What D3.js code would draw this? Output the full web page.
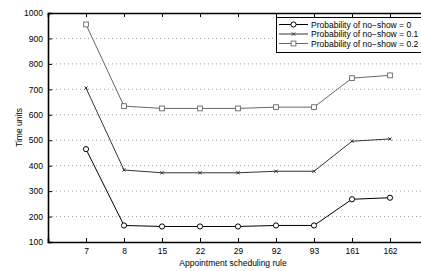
<!DOCTYPE html>
<html><head><meta charset="utf-8">
<script src="https://cdn.jsdelivr.net/npm/d3@7"></script>
<style>body{margin:0;background:#fff}svg{display:block}text{font-family:"Liberation Sans",Arial,sans-serif}</style>
</head><body><svg id="c" width="421" height="271"></svg>
<script>
const categories = ["7","8","15","22","29","92","93","161","162"];
const seriesNames = ["Probability of no\u2212show = 0","Probability of no\u2212show = 0.1","Probability of no\u2212show = 0.2"];
const p0 = [465,165,161,161,161,165,165,268,274];
const p01 = [705,383,372,372,372,378,378,496,505];
const p02 = [955,634,625,625,625,630,630,744,755];
const yTicks = [100,200,300,400,500,600,700,800,900,1000];

const svg = d3.select("#c");
const L=48, T=13, B=242, R=428;
const x = d3.scaleLinear().domain([0,categories.length+1]).range([L,R]);
const y = d3.scaleLinear().domain([100,1000]).range([B,T]);

// grid
svg.append("g").selectAll("line").data(yTicks.slice(1,-1)).join("line")
  .attr("x1",L).attr("x2",R).attr("y1",d=>y(d)).attr("y2",d=>y(d))
  .attr("stroke","#888").attr("stroke-width",0.8).attr("stroke-dasharray","1,3");

// axes
const ya = svg.append("g").attr("transform",`translate(${L},0)`)
  .call(d3.axisLeft(y).tickValues(yTicks).tickSize(-4).tickPadding(5).tickFormat(d3.format("d")));
const xa = svg.append("g").attr("transform",`translate(0,${B})`)
  .call(d3.axisBottom(x).tickValues(categories.map((c,i)=>i+1)).tickSize(-4).tickPadding(6).tickFormat((d)=>categories[d-1]));
const xt = svg.append("g").attr("transform",`translate(0,${T})`)
  .call(d3.axisTop(x).tickValues(categories.map((c,i)=>i+1)).tickSize(-4).tickFormat(""));
[ya,xa,xt].forEach(g=>{
  g.select(".domain").attr("stroke","#000").attr("stroke-width",1.6);
  g.selectAll(".tick line").attr("stroke","#000").attr("stroke-width",1);
  g.selectAll("text").attr("font-size",8.5).attr("fill","#000").style("font-family","'Liberation Sans',Arial,sans-serif");
});
xt.selectAll(".tick text").remove();

const series = [
  {vals:p0, color:"#000", marker:"circle"},
  {vals:p01, color:"#333", marker:"x"},
  {vals:p02, color:"#666", marker:"square"}
];
function drawMarker(g, type, cx, cy, color){
  if(type==="circle") g.append("circle").attr("cx",cx).attr("cy",cy).attr("r",2.6).attr("fill","#fff").attr("stroke",color).attr("stroke-width",1);
  else if(type==="square") g.append("rect").attr("x",cx-2.4).attr("y",cy-2.4).attr("width",4.8).attr("height",4.8).attr("fill","#fff").attr("stroke",color).attr("stroke-width",0.9);
  else g.append("path").attr("d",`M${cx-1.6},${cy-1.6}L${cx+1.6},${cy+1.6}M${cx-1.6},${cy+1.6}L${cx+1.6},${cy-1.6}`).attr("stroke",color).attr("stroke-width",1);
}
const line = d3.line().x((d,i)=>x(i+1)).y(d=>y(d));
series.forEach(s=>{
  const g = svg.append("g");
  g.append("path").attr("d",line(s.vals)).attr("fill","none").attr("stroke",s.color).attr("stroke-width",1);
  s.vals.forEach((v,i)=>drawMarker(g,s.marker,x(i+1),y(v),s.color));
});

// legend
const lg = svg.append("g");
lg.append("rect").attr("x",276.5).attr("y",17.5).attr("width",160).attr("height",35).attr("fill","#fff").attr("stroke","#000").attr("stroke-width",1);
series.forEach((s,i)=>{
  const yy = 24.5 + i*9.5;
  lg.append("line").attr("x1",279).attr("x2",308).attr("y1",yy).attr("y2",yy).attr("stroke",s.color).attr("stroke-width",1);
  drawMarker(lg,s.marker,293.5,yy,s.color);
  lg.append("text").attr("x",311).attr("y",yy+3).attr("font-size",8.5).text(seriesNames[i]);
});

// labels
svg.append("text").attr("x",233).attr("y",266).attr("text-anchor","middle").attr("font-size",8.5).text("Appointment scheduling rule");
svg.append("text").attr("transform",`translate(22,${(T+B)/2}) rotate(-90)`).attr("text-anchor","middle").attr("font-size",8.5).text("Time units");
</script></body></html>
